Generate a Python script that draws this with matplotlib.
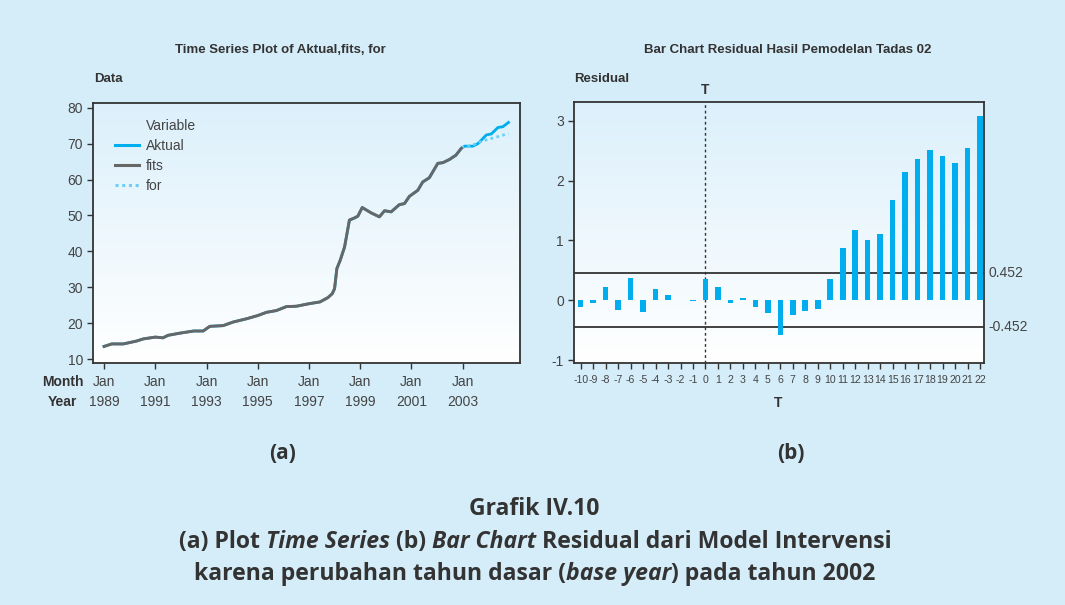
import matplotlib
matplotlib.use("Agg")
import matplotlib.pyplot as plt
from matplotlib.lines import Line2D
from matplotlib.colors import LinearSegmentedColormap
import numpy as np

# ---- data ----
# left panel: decimal year / value
akt_year = [1989.0, 1989.3, 1989.75, 1990.27, 1990.53, 1991.0, 1991.3, 1991.5, 1991.96,
            1992.5, 1992.87, 1993.13, 1993.65, 1994.04, 1994.56, 1995.0, 1995.34, 1995.73,
            1996.12, 1996.51, 1997.0, 1997.43, 1997.74, 1997.91, 1998.0, 1998.09, 1998.22,
            1998.39, 1998.58, 1998.78, 1998.91, 1999.08, 1999.43, 1999.75, 1999.95, 2000.21,
            2000.53, 2000.73, 2000.92, 2001.25, 2001.44, 2001.7, 2002.03, 2002.23, 2002.49,
            2002.74, 2002.95, 2003.08, 2003.4, 2003.6, 2003.92, 2004.12, 2004.38, 2004.57, 2004.79]
akt_val = [13.5, 14.2, 14.2, 15.0, 15.6, 16.1, 15.9, 16.6, 17.2,
           17.8, 17.8, 19.1, 19.3, 20.3, 21.2, 22.1, 23.0, 23.5,
           24.6, 24.7, 25.4, 25.9, 27.1, 28.2, 29.6, 35.2, 37.5,
           41.2, 48.7, 49.3, 49.8, 52.2, 50.7, 49.6, 51.3, 51.0,
           53.0, 53.3, 55.3, 57.0, 59.3, 60.5, 64.5, 64.7, 65.6,
           66.8, 68.7, 69.3, 69.3, 70.0, 72.4, 72.7, 74.5, 74.7, 75.9]
fits_year = akt_year[:47]
fits_val = akt_val[:47]
for_year = [2002.95, 2003.4, 2003.8, 2004.3, 2004.79]
for_val = [68.9, 69.6, 70.8, 71.8, 72.8]

year_ticks = [1989, 1991, 1993, 1995, 1997, 1999, 2001, 2003]
y_ticks_a = [10, 20, 30, 40, 50, 60, 70, 80]

# right panel: residual bars
lags = list(range(-10, 23))
resid = [-0.12, -0.05, 0.22, -0.16, 0.37, -0.20, 0.18, 0.09, 0.01, -0.015,
         0.36, 0.22, -0.04, 0.04, -0.12, -0.22, -0.59, -0.24, -0.18, -0.14,
         0.36, 0.88, 1.17, 1.00, 1.10, 1.67, 2.14, 2.36, 2.51, 2.41, 2.29, 2.54, 3.08]
limit = 0.452

plt.rcParams["axes.unicode_minus"] = False
BG = "#d5edf9"
BLUE = "#00aeef"
TXT = "#333333"
narrow = ["Liberation Sans", "DejaVu Sans"]
cap = ["Open Sans", "DejaVu Sans"]

fig = plt.figure(figsize=(10.65, 6.05), dpi=100, facecolor=BG)
W, H = 1065.0, 605.0


def fx(px):
    return px / W


def fy(py):
    return 1 - py / H


grad = np.linspace(0, 1, 256).reshape(-1, 1)
gcmap = LinearSegmentedColormap.from_list("g", ["#ffffff", "#dcf0fb"])


def style_axes(ax, size=10):
    ax.imshow(grad, extent=[0, 1, 0, 1], transform=ax.transAxes, aspect="auto",
              cmap=gcmap, origin="lower", zorder=0)
    for s in ax.spines.values():
        s.set_color("#333333")
        s.set_linewidth(1.3)
    ax.tick_params(direction="out", length=4, width=1, color="#333333",
                   labelcolor="#444444", labelsize=size)
    for lab in ax.get_xticklabels() + ax.get_yticklabels():
        lab.set_family(narrow)


# ---- (a) time series ----
ax1 = fig.add_axes([fx(93.3), fy(362.7), fx(520 - 93.3), (362.7 - 102.7) / H])
ax1.plot(akt_year, akt_val, color=BLUE, lw=2.0, zorder=3)
ax1.plot(fits_year, fits_val, color="#676767", lw=2.1, zorder=4)
ax1.plot(for_year, for_val, color="#6cd0f4", lw=2.0, ls=(0, (1, 1.2)), zorder=3)
ax1.set_xticks(year_ticks)
ax1.set_xticklabels(["Jan\n%d" % y for y in year_ticks], linespacing=1.5)
ax1.set_yticks(y_ticks_a)
ax1.set_xlim(1988.58, 2005.24)
ax1.set_ylim(8.97, 81.4)
style_axes(ax1)
ax1.tick_params(axis="x", pad=5)

handles = [Line2D([], [], color="none"),
           Line2D([], [], color=BLUE, lw=2.2),
           Line2D([], [], color="#676767", lw=2.2),
           Line2D([], [], color="#6cd0f4", lw=2.2, ls=(0, (1, 1.2)))]
leg = ax1.legend(handles, ["Variable", "Aktual", "fits", "for"], loc="upper left",
                 bbox_to_anchor=(0.022, 0.985), frameon=False, handlelength=1.75,
                 handletextpad=0.45, labelspacing=0.42,
                 prop={"family": narrow, "size": 10})
for t in leg.get_texts():
    t.set_color("#444444")

fig.text(fx(280), fy(50), "Time Series Plot of Aktual,fits, for", ha="center", va="center",
         family=narrow, weight="bold", fontsize=9.5, color=TXT)
fig.text(fx(94), fy(79), "Data", ha="left", va="center", family=narrow, weight="bold",
         fontsize=9.5, color=TXT)
fig.text(fx(84), fy(382), "Month", ha="right", va="center", family=narrow, weight="bold",
         fontsize=10, color=TXT)
fig.text(fx(77), fy(402), "Year", ha="right", va="center", family=narrow, weight="bold",
         fontsize=10, color=TXT)

# ---- (b) residual bars ----
ax2 = fig.add_axes([fx(574.3), fy(362.7), fx(984 - 574.3), (362.7 - 102.3) / H])
ax2.bar(lags, resid, width=0.45, color=BLUE, zorder=3)
ax2.axhline(limit, color="#222222", lw=1.2, zorder=2)
ax2.axhline(-limit, color="#222222", lw=1.2, zorder=2)
ax2.axvline(0, color="#333333", lw=1.0, ls=(0, (2, 2)), zorder=2)
ax2.set_xticks(lags)
ax2.set_yticks([-1, 0, 1, 2, 3])
ax2.set_xlim(-10.51, 22.32)
ax2.set_ylim(-1.045, 3.31)
style_axes(ax2)
ax2.tick_params(axis="x", labelsize=7.6, pad=5)
ax2.text(1.01, limit, "0.452", transform=ax2.get_yaxis_transform(), ha="left", va="center",
         family=narrow, fontsize=10, color="#444444")
ax2.text(1.01, -limit, "-0.452", transform=ax2.get_yaxis_transform(), ha="left", va="center",
         family=narrow, fontsize=10, color="#444444")
ax2.text(0, 1.02, "T", transform=ax2.get_xaxis_transform(), ha="center", va="bottom",
         family=narrow, weight="bold", fontsize=10, color=TXT)

fig.text(fx(788), fy(50), "Bar Chart Residual Hasil Pemodelan Tadas 02", ha="center",
         va="center", family=narrow, weight="bold", fontsize=9.5, color=TXT)
fig.text(fx(574), fy(79), "Residual", ha="left", va="center", family=narrow, weight="bold",
         fontsize=9.5, color=TXT)
fig.text(fx(778), fy(403), "T", ha="center", va="center", family=narrow, weight="bold",
         fontsize=10, color=TXT)

# ---- panel letters and caption ----
fig.text(fx(283), fy(459), "(a)", ha="center", va="baseline", family=cap, weight="bold",
         fontsize=15, color=TXT)
fig.text(fx(791), fy(459), "(b)", ha="center", va="baseline", family=cap, weight="bold",
         fontsize=15, color=TXT)
fig.text(fx(534), fy(515), "Grafik IV.10", ha="center", va="baseline", family=cap,
         weight="bold", fontsize=16.5, color=TXT)

renderer = fig.canvas.get_renderer()


def rich_line(segments, ypix, size=16.6):
    texts = []
    for s, it in segments:
        t = fig.text(0, fy(ypix), s, ha="left", va="baseline", family=cap, weight="bold",
                     style="italic" if it else "normal", fontsize=size, color=TXT)
        texts.append(t)
    widths = [t.get_window_extent(renderer).width for t in texts]
    x = 535 - sum(widths) / 2
    for t, w in zip(texts, widths):
        t.set_x(x / W)
        x += w


rich_line([("(a) Plot ", False), ("Time Series", True), (" (b) ", False), ("Bar Chart", True),
           (" Residual dari Model Intervensi", False)], 548)
rich_line([("karena perubahan tahun dasar (", False), ("base year", True),
           (") pada tahun 2002", False)], 580)

fig.savefig("out.png", dpi=100, facecolor=BG)
